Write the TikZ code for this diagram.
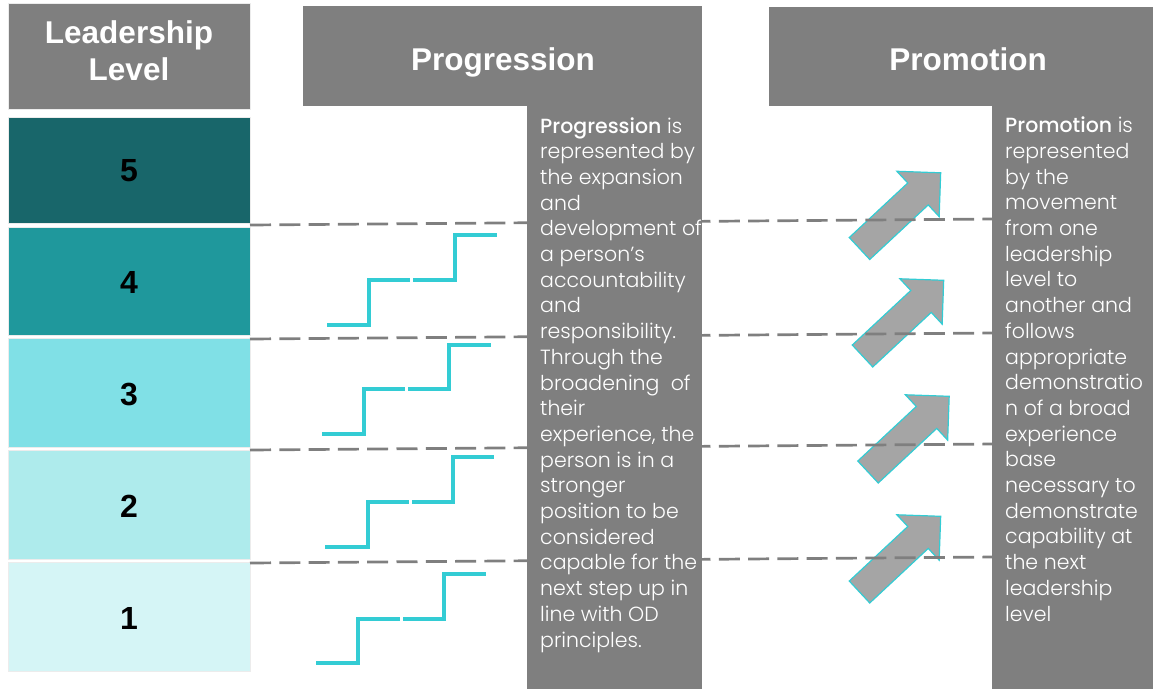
\documentclass[tikz,border=0pt]{standalone}
\usepackage{fontspec}
\setmainfont{Liberation Sans}
\newfontfamily\bodyfont{Poppins}[UprightFont={* Light},BoldFont={* Medium}]
\begin{document}
\begin{tikzpicture}[x=1pt,y=-1pt,
  every node/.style={inner sep=0pt},
  panel/.style={fill=panelgray,draw=none},
  lvlbox/.style={draw=white!85!gray,line width=0.8pt},
  heading/.style={text=white,font=\fontsize{31.5}{37}\selectfont\bfseries,align=center},
  lvlnum/.style={text=black,font=\fontsize{32}{36}\selectfont\bfseries},
  bodytext/.style={text=white,align=left,anchor=base west,font=\bodyfont\fontsize{20.5}{25.7}\selectfont},
  divider/.style={draw=dashgray,line width=2.7pt,dash pattern=on 21pt off 8.3pt},
  stair/.style={draw=staircyan,line width=3.2pt},
  arrowshape/.style={fill=arrowfill,draw=staircyan,line width=1.2pt,line join=miter},
  promoarrow/.pic={\path[arrowshape] (0,-15)--(80,-15)--(80,-31)--(111,0)--(80,31)--(80,15)--(0,15)--cycle;}
]
\definecolor{panelgray}{HTML}{7F7F7F}
\definecolor{dashgray}{HTML}{7F7F7F}
\definecolor{staircyan}{HTML}{33CCD4}
\definecolor{arrowfill}{HTML}{A5A5A5}
\definecolor{lvlfive}{HTML}{18666A}
\definecolor{lvlfour}{HTML}{1F989C}
\definecolor{lvlthree}{HTML}{80E0E6}
\definecolor{lvltwo}{HTML}{AEEBEC}
\definecolor{lvlone}{HTML}{D5F5F6}

\useasboundingbox (0,0) rectangle (1153,689);

% leadership level column
\path[panel,draw=white!85!gray,line width=0.8pt] (8,3) rectangle (250,109);
\node[heading] (lvlhead) at (129,51) {Leadership\\Level};

\path[lvlbox,fill=lvlfive]  (8,117) rectangle (250,223);
\path[lvlbox,fill=lvlfour]  (8,227) rectangle (250,335);
\path[lvlbox,fill=lvlthree] (8,338) rectangle (250,447);
\path[lvlbox,fill=lvltwo]   (8,450) rectangle (250,559);
\path[lvlbox,fill=lvlone]   (8,562) rectangle (250,671);
\node[lvlnum] (l5) at (129,171) {5};
\node[lvlnum] (l4) at (129,282) {4};
\node[lvlnum] (l3) at (129,394) {3};
\node[lvlnum] (l2) at (129,506) {2};
\node[lvlnum] (l1) at (129,618) {1};

% promotion arrows
\pic[rotate=43] at (859.5,248.5) {promoarrow};
\pic[rotate=43] at (862.5,356) {promoarrow};
\pic[rotate=43] at (868,472) {promoarrow};
\pic[rotate=43] at (859.5,592) {promoarrow};

% level boundaries carried across
\coordinate (b45l) at (250,225); \coordinate (b45r) at (994,219);
\coordinate (b34l) at (250,339); \coordinate (b34r) at (994,333);
\coordinate (b23l) at (250,450); \coordinate (b23r) at (994,444);
\coordinate (b12l) at (250,563); \coordinate (b12r) at (994,557);
\draw[divider] (b45l) -- (b45r);
\draw[divider] (b34l) -- (b34r);
\draw[divider] (b23l) -- (b23r);
\draw[divider] (b12l) -- (b12r);

% progression stairs
\draw[stair] (327,325)--(369,325)--(369,280)--(410,280);
\draw[stair] (413,280)--(455,280)--(455,235)--(497,235);
\draw[stair] (322,434)--(364,434)--(364,389)--(405,389);
\draw[stair] (408,389)--(449,389)--(449,345)--(491,345);
\draw[stair] (325,547)--(368,547)--(368,502)--(409,502);
\draw[stair] (412,502)--(453,502)--(453,457)--(494,457);
\draw[stair] (316,663)--(358,663)--(358,619)--(400,619);
\draw[stair] (403,619)--(444,619)--(444,574)--(486,574);

% progression panel (last line baseline given)
\path[panel] (303,6) rectangle (702,106);
\path[panel] (527,104) rectangle (702,689);
\node[heading,anchor=base] (proghead) at (503,70) {Progression};
\node[bodytext] (progtext) at (540,647) {{\bfseries Progression} is\\
represented by\\
the expansion\\
and\\
development of\\
a person’s\\
accountability\\
and\\
responsibility.\\
Through the\\
broadening\ \ of\\
their\\
experience, the\\
person is in a\\
stronger\\
position to be\\
considered\\
capable for the\\
next step up in\\
line with OD\\
principles.};

% promotion panel (last line baseline given)
\path[panel] (769,7) rectangle (1153,106);
\path[panel] (992,104) rectangle (1153,689);
\node[heading,anchor=base] (promhead) at (968,70) {Promotion};
\node[bodytext] (promtext) at (1005,621) {{\bfseries Promotion} is\\
represented\\
by the\\
movement\\
from one\\
leadership\\
level to\\
another and\\
follows\\
appropriate\\
demonstratio\\
n of a broad\\
experience\\
base\\
necessary to\\
demonstrate\\
capability at\\
the next\\
leadership\\
level};
\end{tikzpicture}
\end{document}
